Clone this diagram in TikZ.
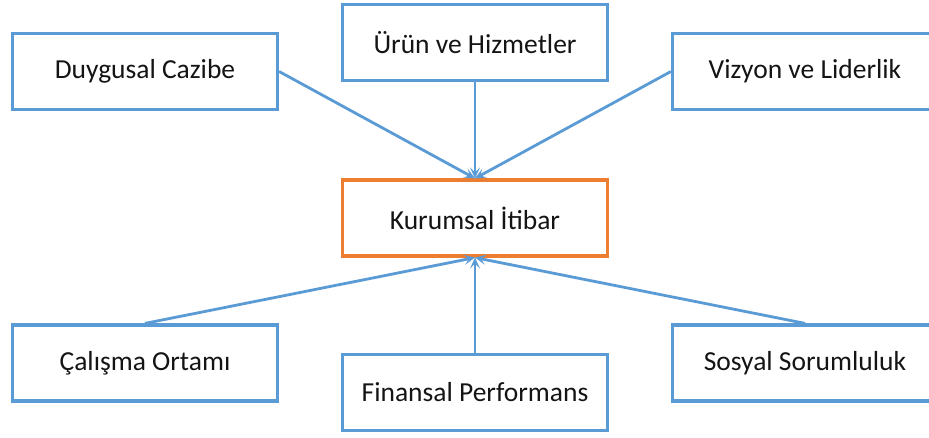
\documentclass[tikz,border=0pt]{standalone}
\usepackage{fontspec}
\setmainfont{Carlito}
\usetikzlibrary{arrows.meta}
\definecolor{boxblue}{HTML}{5B9BD5}
\definecolor{boxorange}{HTML}{ED7D31}
\begin{document}
\begin{tikzpicture}[x=1pt,y=-1pt,
  factor/.style={draw=boxblue,line width=3.2pt,fill=white,minimum width=265pt,minimum height=76pt,inner sep=0pt,font=\fontsize{27.5}{31}\selectfont,text=black!92},
  core/.style={factor,draw=boxorange},
  link/.style={draw=boxblue,line width=2.8pt,-{Stealth[length=11pt,width=10pt,inset=5pt]}}]
\useasboundingbox (0,0) rectangle (929,438);
\clip (0,0) rectangle (929,438);
\node[core]   (k) at (475,218) {Kurumsal İtibar};
\node[factor] (d) at (145,71.5) {Duygusal Cazibe};
\node[factor] (u) at (475,42.5) {Ürün ve Hizmetler};
\node[factor] (v) at (805,71.5) {Vizyon ve Liderlik};
\node[factor] (c) at (145,363) {Çalışma Ortamı};
\node[factor] (f) at (475,392.5) {Finansal Performans};
\node[factor] (s) at (805,363) {Sosyal Sorumluluk};
\draw[link] (d.east) -- (k.north);
\draw[link] (u.south) -- (k.north);
\draw[link] (v.west) -- (k.north);
\draw[link] (c.north) -- (k.south);
\draw[link] (f.north) -- (k.south);
\draw[link] (s.north) -- (k.south);
\end{tikzpicture}
\end{document}
